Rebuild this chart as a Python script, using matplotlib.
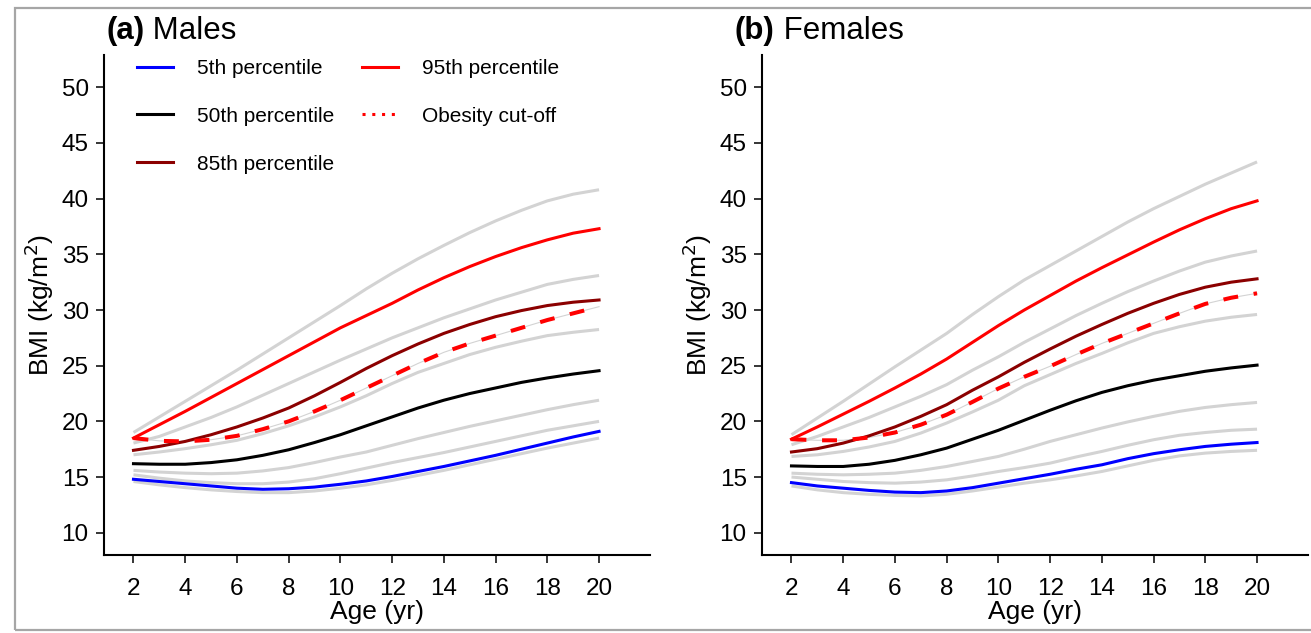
import matplotlib
matplotlib.use('Agg')
import matplotlib.pyplot as plt
from matplotlib.lines import Line2D
from matplotlib.patches import Rectangle

plt.rcParams['font.family'] = ['Liberation Sans', 'DejaVu Sans']

ages = list(range(2, 21))

# Males (kg/m2), ages 2..20
male_g97 = [19.0, 20.4, 21.8, 23.2, 24.6, 26.05, 27.5, 28.95, 30.4, 31.9, 33.3, 34.6, 35.8, 36.95, 38.0, 38.95, 39.8, 40.4, 40.8]
male_p95 = [18.5, 19.7, 20.9, 22.15, 23.4, 24.65, 25.9, 27.15, 28.4, 29.5, 30.6, 31.8, 32.9, 33.9, 34.8, 35.6, 36.3, 36.9, 37.3]
male_g90 = [18.05, 18.65, 19.5, 20.35, 21.3, 22.35, 23.4, 24.45, 25.5, 26.5, 27.5, 28.4, 29.3, 30.1, 30.9, 31.6, 32.3, 32.75, 33.1]
male_p85 = [17.4, 17.75, 18.2, 18.8, 19.5, 20.3, 21.2, 22.3, 23.5, 24.75, 25.9, 26.95, 27.9, 28.7, 29.4, 29.95, 30.4, 30.7, 30.9]
male_obese = [18.5, 18.25, 18.2, 18.35, 18.7, 19.3, 20.0, 20.9, 21.9, 23.0, 24.1, 25.2, 26.2, 27.0, 27.7, 28.4, 29.1, 29.7, 30.3]
male_g75 = [17.0, 17.25, 17.55, 17.9, 18.3, 18.9, 19.6, 20.4, 21.3, 22.3, 23.4, 24.4, 25.2, 26.0, 26.65, 27.2, 27.7, 28.0, 28.25]
male_p50 = [16.2, 16.15, 16.15, 16.3, 16.55, 16.95, 17.45, 18.1, 18.8, 19.6, 20.4, 21.2, 21.9, 22.5, 23.0, 23.5, 23.9, 24.25, 24.55]
male_g25 = [15.6, 15.45, 15.35, 15.3, 15.35, 15.55, 15.85, 16.3, 16.8, 17.25, 17.85, 18.45, 19.0, 19.55, 20.05, 20.55, 21.05, 21.5, 21.9]
male_g10 = [15.2, 14.9, 14.65, 14.5, 14.4, 14.4, 14.55, 14.85, 15.3, 15.8, 16.3, 16.75, 17.2, 17.7, 18.2, 18.7, 19.2, 19.6, 20.0]
male_p5 = [14.8, 14.6, 14.4, 14.2, 14.0, 13.9, 13.95, 14.1, 14.35, 14.65, 15.05, 15.5, 15.95, 16.45, 16.95, 17.5, 18.05, 18.6, 19.1]
male_g3 = [14.6, 14.3, 14.05, 13.85, 13.7, 13.6, 13.6, 13.75, 14.0, 14.3, 14.7, 15.15, 15.6, 16.1, 16.6, 17.1, 17.6, 18.05, 18.5]

# Females (kg/m2), ages 2..20
female_g97 = [18.8, 20.3, 21.8, 23.35, 24.9, 26.4, 27.9, 29.6, 31.2, 32.7, 34.0, 35.3, 36.6, 37.9, 39.1, 40.2, 41.3, 42.3, 43.3]
female_p95 = [18.4, 19.5, 20.65, 21.8, 23.0, 24.25, 25.6, 27.1, 28.6, 30.0, 31.3, 32.6, 33.8, 34.95, 36.1, 37.2, 38.2, 39.1, 39.8]
female_g90 = [17.9, 18.65, 19.5, 20.35, 21.3, 22.25, 23.3, 24.6, 25.8, 27.1, 28.3, 29.5, 30.6, 31.65, 32.6, 33.5, 34.3, 34.85, 35.3]
female_p85 = [17.25, 17.55, 18.05, 18.7, 19.5, 20.45, 21.5, 22.8, 24.0, 25.3, 26.5, 27.65, 28.7, 29.7, 30.6, 31.4, 32.05, 32.5, 32.8]
female_obese = [18.4, 18.3, 18.3, 18.55, 19.0, 19.7, 20.6, 21.75, 22.95, 24.0, 24.95, 26.0, 27.0, 27.9, 28.8, 29.7, 30.55, 31.1, 31.5]
female_g75 = [16.85, 17.0, 17.3, 17.7, 18.2, 18.95, 19.85, 20.85, 21.9, 23.2, 24.2, 25.2, 26.1, 27.05, 27.9, 28.5, 29.0, 29.35, 29.6]
female_p50 = [16.0, 15.95, 15.95, 16.15, 16.5, 17.0, 17.6, 18.4, 19.2, 20.1, 21.0, 21.85, 22.6, 23.2, 23.7, 24.1, 24.5, 24.8, 25.05]
female_g25 = [15.35, 15.25, 15.2, 15.25, 15.35, 15.6, 15.95, 16.4, 16.85, 17.5, 18.2, 18.8, 19.4, 19.95, 20.45, 20.9, 21.25, 21.5, 21.7]
female_g10 = [15.0, 14.8, 14.6, 14.5, 14.45, 14.55, 14.75, 15.1, 15.5, 15.85, 16.25, 16.8, 17.3, 17.85, 18.35, 18.75, 19.0, 19.2, 19.3]
female_p5 = [14.5, 14.2, 14.0, 13.8, 13.65, 13.6, 13.75, 14.05, 14.45, 14.85, 15.25, 15.7, 16.1, 16.65, 17.1, 17.45, 17.75, 17.95, 18.1]
female_g3 = [14.2, 13.85, 13.6, 13.45, 13.35, 13.3, 13.45, 13.75, 14.1, 14.45, 14.75, 15.1, 15.5, 16.0, 16.5, 16.9, 17.15, 17.3, 17.4]

x_ticks = list(range(2, 21, 2))
y_ticks = [10, 15, 20, 25, 30, 35, 40, 45, 50]

GREY = '#d3d3d3'
LW = 2.2

fig = plt.figure(figsize=(13.11, 6.33), dpi=100)
ax_m = fig.add_axes([104 / 1311, 78 / 633, 546 / 1311, 500 / 633])
ax_f = fig.add_axes([762 / 1311, 78 / 633, 546 / 1311, 500 / 633])

# grey frame round the whole figure
fig.add_artist(Rectangle((15 / 1311, 3 / 633), 1.0, 622 / 633, transform=fig.transFigure,
                         fill=False, edgecolor='#a6a6a6', linewidth=1.6, clip_on=False))


def draw_panel(ax, grey_sets, p95, p85, p50, p5, obese):
    for g in grey_sets:
        ax.plot(ages, g, color=GREY, lw=LW, solid_capstyle='butt', zorder=1)
    ax.plot(ages, obese, color=GREY, lw=0.8, zorder=2)
    ax.plot(ages, p5, color='#0000ff', lw=LW, zorder=3)
    ax.plot(ages, p50, color='black', lw=LW, zorder=3)
    ax.plot(ages, p85, color='#8b0000', lw=LW, zorder=3)
    ax.plot(ages, p95, color='#ff0000', lw=LW, zorder=3)
    ax.plot(ages, obese, color='#ff0000', lw=2.9, linestyle=(0, (3.7, 3.9)),
            dash_capstyle='butt', zorder=4)

    ax.set_xlim(0.86, 21.97)
    ax.set_ylim(8.0, 52.9)
    ax.set_xticks(x_ticks)
    ax.set_yticks(y_ticks)
    for s in ['top', 'right']:
        ax.spines[s].set_visible(False)
    for s in ['left', 'bottom']:
        ax.spines[s].set_linewidth(1.5)
    ax.tick_params(axis='both', labelsize=17.5, length=5.5, width=1.1, colors='black')
    ax.tick_params(axis='x', pad=11)
    ax.tick_params(axis='y', pad=5.5)
    ax.set_xlabel('Age (yr)', fontsize=19, labelpad=0)
    ax.set_ylabel('BMI (kg/m$^2$)', fontsize=19, labelpad=4)


draw_panel(ax_m, [male_g97, male_g90, male_g75, male_g25, male_g10, male_g3],
           male_p95, male_p85, male_p50, male_p5, male_obese)
draw_panel(ax_f, [female_g97, female_g90, female_g75, female_g25, female_g10, female_g3],
           female_p95, female_p85, female_p50, female_p5, female_obese)

handles = [
    Line2D([], [], color='#0000ff', lw=LW),
    Line2D([], [], color='black', lw=LW),
    Line2D([], [], color='#8b0000', lw=LW),
    Line2D([], [], color='#ff0000', lw=LW),
    Line2D([], [], color='#ff0000', lw=2.2, linestyle=(0, (1, 2.2))),
]
labels = ['5th percentile', '50th percentile', '85th percentile', '95th percentile', 'Obesity cut-off']
ax_m.legend(handles, labels, ncol=2, loc='upper left', bbox_to_anchor=(0.06, 0.992),
            frameon=False, fontsize=15, handlelength=1.75, handletextpad=1.15,
            columnspacing=1.3, labelspacing=1.38, borderpad=0, borderaxespad=0)

# panel titles
for x0, tag, name in [(106 / 1311, '(a)', ' Males'), (735 / 1311, '(b)', ' Females')]:
    t = fig.text(x0, 1 - 31 / 633, tag, fontsize=22.5, fontweight='bold', va='center', ha='left')
    fig.add_artist(plt.Annotation(name, xy=(1, 0.5), xycoords=t, va='center', ha='left', fontsize=22.5))

fig.savefig('out.png', dpi=100)
